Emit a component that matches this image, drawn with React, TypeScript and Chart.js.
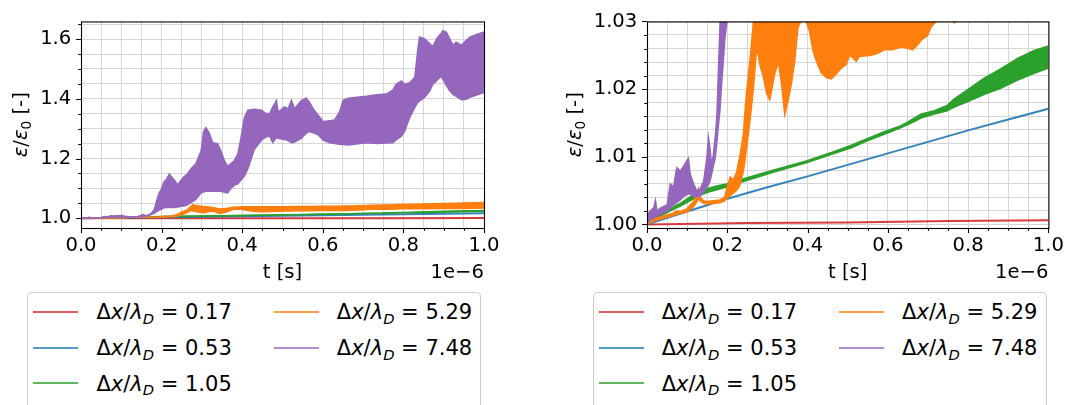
import React, { useEffect, useRef } from 'react';
import { Chart, registerables } from 'chart.js';

Chart.register(...registerables);

const FONT = "'DejaVu Sans', sans-serif";
const FS = 19.6;
const LEG_FS = 21;
const TEXT = '#000000';
const GRID = '#d6d6d6';

// ---------- tick labels ----------
const X_MAJOR = [0.0, 0.2, 0.4, 0.6, 0.8, 1.0];
const X_OFFSET_LABEL = '1e\u22126';
const X_TITLE = 't [s]';
const Y_MAJOR_LEFT = [1.0, 1.2, 1.4, 1.6];
const Y_MAJOR_RIGHT = [1.0, 1.01, 1.02, 1.03];

// ---------- legend ----------
const LEGEND_VALUES = ['0.17', '0.53', '1.05', '5.29', '7.48'];
const SERIES_COLORS = ['#d62728', '#1f77b4', '#2ca02c', '#ff7f0e', '#9467bd'];
const SERIES_RGB = ['214,39,40', '31,119,180', '44,160,44', '255,127,14', '148,103,189'];

// ---------- series (t in units of 1e-6 s, energy ratio) ----------
const RED_T = [0, 0.25, 0.5, 0.75, 1.0];
const RED_V = [1.0, 1.0002, 1.0003, 1.0005, 1.0006];

const BLUE_T = [0, 0.1, 0.2, 0.3, 0.4, 0.5, 0.6, 0.7, 0.8, 0.9, 1.0];
const BLUE_V = [1.0, 1.0019, 1.0038, 1.0055, 1.0071, 1.0088, 1.0105, 1.0122, 1.0139, 1.0155, 1.0171];

const GREEN_T = [0, 0.03, 0.058, 0.083, 0.108, 0.132, 0.149, 0.174, 0.198, 0.232,
  0.314, 0.397, 0.467, 0.509, 0.55, 0.591, 0.633, 0.666, 0.682, 0.716,
  0.748, 0.764, 0.798, 0.839, 0.881, 0.922, 0.963, 1.0];
const GREEN_LO = [1.0, 1.0011, 1.002, 1.0027, 1.0035, 1.0043, 1.0047, 1.0051, 1.0055, 1.0062,
  1.0077, 1.0091, 1.0105, 1.0113, 1.0124, 1.0133, 1.0143, 1.0152, 1.0157, 1.0163,
  1.0168, 1.0173, 1.0181, 1.0192, 1.0201, 1.0213, 1.0223, 1.0231];
const GREEN_HI = [1.0, 1.0014, 1.0024, 1.0031, 1.0041, 1.005, 1.0053, 1.0057, 1.006, 1.0066,
  1.008, 1.0094, 1.0108, 1.0117, 1.0127, 1.0137, 1.0146, 1.0157, 1.0163, 1.0168,
  1.0176, 1.0185, 1.0199, 1.0216, 1.023, 1.0245, 1.0257, 1.0264];

const ORANGE_T = [0, 0.017, 0.033, 0.05, 0.066, 0.074, 0.083, 0.091, 0.099, 0.108,
  0.116, 0.124, 0.128, 0.132, 0.141, 0.149, 0.165, 0.182, 0.194, 0.198,
  0.207, 0.215, 0.223, 0.231, 0.24, 0.244, 0.248, 0.256, 0.265, 0.273,
  0.277, 0.281, 0.29, 0.298, 0.306, 0.318, 0.327, 0.335, 0.343, 0.352,
  0.36, 0.368, 0.376, 0.39, 0.405, 0.414, 0.422, 0.434, 0.447, 0.459,
  0.471, 0.484, 0.496, 0.505, 0.513, 0.521, 0.529, 0.558, 0.575, 0.591,
  0.612, 0.633, 0.653, 0.661, 0.674, 0.686, 0.699, 0.707, 0.72, 0.75,
  0.766, 0.79, 0.85, 0.9, 0.95, 1.0];
const ORANGE_LO = [1.0, 1.0005, 1.0008, 1.0011, 1.0013, 1.0015, 1.0016, 1.0017, 1.0018, 1.0022,
  1.0026, 1.0033, 1.0038, 1.0035, 1.0031, 1.003, 1.0031, 1.0032, 1.0035, 1.0038,
  1.0042, 1.0046, 1.005, 1.0057, 1.0078, 1.0093, 1.0112, 1.015, 1.02, 1.026,
  1.025, 1.0236, 1.0217, 1.0193, 1.0184, 1.0222, 1.024, 1.0208, 1.0162, 1.0184,
  1.0208, 1.0241, 1.029, 1.031, 1.0285, 1.0255, 1.0241, 1.0224, 1.0217, 1.0215,
  1.0222, 1.0231, 1.0236, 1.025, 1.0246, 1.0241, 1.0248, 1.025, 1.0253, 1.0258,
  1.0258, 1.0262, 1.026, 1.0258, 1.0265, 1.0274, 1.0279, 1.0291, 1.03, 1.031,
  1.0298, 1.0315, 1.032, 1.0325, 1.033, 1.034];
const ORANGE_HI = [1.0, 1.0008, 1.0011, 1.0014, 1.0017, 1.002, 1.0019, 1.0021, 1.0023, 1.0029,
  1.0034, 1.0044, 1.0053, 1.0041, 1.0035, 1.0034, 1.0035, 1.0036, 1.0041, 1.0052,
  1.007, 1.0066, 1.0077, 1.01, 1.0134, 1.0167, 1.0196, 1.024, 1.03, 1.04,
  1.046, 1.044, 1.042, 1.0405, 1.0395, 1.038, 1.036, 1.034, 1.031, 1.032,
  1.033, 1.035, 1.037, 1.038, 1.039, 1.039, 1.0388, 1.0385, 1.0385, 1.0385,
  1.0385, 1.0385, 1.039, 1.039, 1.0392, 1.0393, 1.0395, 1.0398, 1.04, 1.0402,
  1.0405, 1.0407, 1.041, 1.0412, 1.0415, 1.042, 1.0425, 1.043, 1.0435, 1.0445,
  1.045, 1.0465, 1.048, 1.0495, 1.051, 1.053];

const PURPLE_T = [0, 0.004, 0.008, 0.017, 0.021, 0.025, 0.033, 0.05, 0.058, 0.066,
  0.074, 0.083, 0.091, 0.103, 0.108, 0.116, 0.124, 0.132, 0.141, 0.149,
  0.153, 0.157, 0.161, 0.165, 0.17, 0.174, 0.178, 0.182, 0.186, 0.19,
  0.194, 0.199, 0.207, 0.211, 0.219, 0.232, 0.24, 0.248, 0.256, 0.265,
  0.273, 0.285, 0.298, 0.304, 0.31, 0.318, 0.327, 0.339, 0.347, 0.356,
  0.364, 0.372, 0.38, 0.389, 0.397, 0.405, 0.414, 0.43, 0.448, 0.459,
  0.468, 0.476, 0.485, 0.489, 0.505, 0.514, 0.522, 0.53, 0.547, 0.559,
  0.567, 0.576, 0.588, 0.601, 0.617, 0.629, 0.642, 0.65, 0.663, 0.708,
  0.733, 0.758, 0.774, 0.782, 0.795, 0.803, 0.815, 0.828, 0.836, 0.84,
  0.853, 0.865, 0.873, 0.882, 0.894, 0.898, 0.907, 0.915, 0.923, 0.931,
  0.944, 0.956, 0.965, 0.98, 1.0];
const PURPLE_LO = [1.0, 1.0005, 1.0006, 1.001, 1.0011, 1.0012, 1.0015, 1.002, 1.0024, 1.0029,
  1.0032, 1.0036, 1.0041, 1.0045, 1.0045, 1.0041, 1.0041, 1.0042, 1.0048, 1.0055,
  1.0058, 1.0064, 1.0074, 1.0085, 1.0098, 1.012, 1.0146, 1.017, 1.0208, 1.024,
  1.0274, 1.03, 1.036, 1.036, 1.036, 1.036, 1.038, 1.04, 1.041, 1.046,
  1.052, 1.063, 1.085, 1.088, 1.09, 1.09, 1.09, 1.09, 1.09, 1.087,
  1.085, 1.1, 1.11, 1.115, 1.128, 1.14, 1.165, 1.23, 1.262, 1.272,
  1.275, 1.253, 1.27, 1.268, 1.264, 1.26, 1.253, 1.255, 1.268, 1.285,
  1.29, 1.286, 1.28, 1.262, 1.253, 1.25, 1.248, 1.247, 1.245, 1.253,
  1.25, 1.252, 1.253, 1.262, 1.275, 1.291, 1.335, 1.37, 1.389, 1.392,
  1.405, 1.425, 1.449, 1.46, 1.476, 1.465, 1.443, 1.427, 1.415, 1.408,
  1.397, 1.398, 1.405, 1.412, 1.421];
const PURPLE_HI = [1.0, 1.0017, 1.002, 1.0025, 1.0036, 1.002, 1.0024, 1.0029, 1.006, 1.0055,
  1.0084, 1.0079, 1.0086, 1.0098, 1.0074, 1.006, 1.005, 1.0052, 1.0064, 1.0098,
  1.0129, 1.0112, 1.0088, 1.0102, 1.013, 1.016, 1.0231, 1.0298, 1.05, 1.07,
  1.085, 1.096, 1.125, 1.128, 1.148, 1.128, 1.112, 1.128, 1.14, 1.15,
  1.166, 1.183, 1.226, 1.291, 1.304, 1.286, 1.253, 1.25, 1.226, 1.193,
  1.174, 1.183, 1.193, 1.215, 1.27, 1.335, 1.362, 1.365, 1.362, 1.351,
  1.351, 1.373, 1.395, 1.356, 1.373, 1.367, 1.395, 1.367, 1.395, 1.402,
  1.389, 1.367, 1.346, 1.324, 1.327, 1.329, 1.357, 1.395, 1.402, 1.409,
  1.414, 1.416, 1.43, 1.449, 1.46, 1.449, 1.454, 1.471, 1.568, 1.607,
  1.601, 1.585, 1.574, 1.601, 1.62, 1.628, 1.623, 1.601, 1.579, 1.59,
  1.579, 1.596, 1.607, 1.615, 1.624];

// ---------- helpers ----------
const pts = (t: number[], v: number[]) => t.map((x, i) => ({ x, y: v[i] }));

function subTicks(majors: number[], ndiv: number, min: number, max: number): number[] {
  const step = (majors[1] - majors[0]) / ndiv;
  const base = majors[0];
  const kmin = Math.ceil((min - base) / step - 1e-9);
  const kmax = Math.floor((max - base) / step + 1e-9);
  const out: number[] = [];
  for (let k = kmin; k <= kmax; k++) out.push(Math.round((base + k * step) * 1e9) / 1e9);
  return out;
}
const isMajor = (v: number, majors: number[]) => majors.some((m) => Math.abs(m - v) < 1e-7);

function band(t: number[], lo: number[], hi: number[], idx: number) {
  const c = SERIES_COLORS[idx];
  return [
    { data: pts(t, hi), borderColor: c, backgroundColor: c, borderWidth: 1.4, pointRadius: 0, fill: '+1', tension: 0, clip: 0 },
    { data: pts(t, lo), borderColor: c, backgroundColor: c, borderWidth: 1.4, pointRadius: 0, fill: false, tension: 0, clip: 0 },
  ];
}
function thin(t: number[], v: number[], idx: number) {
  return { data: pts(t, v), borderColor: `rgba(${SERIES_RGB[idx]},0.9)`, borderWidth: 2, pointRadius: 0, fill: false, tension: 0, clip: 0 };
}

type PanelCfg = {
  left: number; width: number; height: number;
  chartLeft: number; chartRight: number; chartTop: number; chartBottom: number;
  yMin: number; yMax: number; yMajor: number[]; yNdiv: number; yDec: number; yLabelX: number;
};

function drawYLabel(ctx: CanvasRenderingContext2D, cx: number, cy: number) {
  const parts = [
    { t: '\u03b5', f: `italic ${FS}px ${FONT}`, dy: 0 },
    { t: '/', f: `${FS}px ${FONT}`, dy: 0 },
    { t: '\u03b5', f: `italic ${FS}px ${FONT}`, dy: 0 },
    { t: '0', f: `${FS * 0.7}px ${FONT}`, dy: FS * 0.2 },
    { t: ' [-]', f: `${FS}px ${FONT}`, dy: 0 },
  ];
  ctx.save();
  ctx.translate(cx, cy);
  ctx.rotate(-Math.PI / 2);
  let w = 0;
  for (const p of parts) { ctx.font = p.f; w += ctx.measureText(p.t).width; }
  let x = -w / 2;
  const base = FS * 0.34;
  ctx.textAlign = 'left';
  ctx.textBaseline = 'alphabetic';
  ctx.fillStyle = TEXT;
  for (const p of parts) {
    ctx.font = p.f;
    ctx.fillText(p.t, x, base + p.dy);
    x += ctx.measureText(p.t).width;
  }
  ctx.restore();
}

function Panel({ cfg }: { cfg: PanelCfg }) {
  const ref = useRef<HTMLCanvasElement>(null);
  useEffect(() => {
    const xTicks = subTicks(X_MAJOR, 4, 0, 1);
    const yTicks = subTicks(cfg.yMajor, cfg.yNdiv, cfg.yMin, cfg.yMax);
    const decor = {
      id: 'decor',
      afterDraw(chart: any) {
        const { ctx, chartArea: a, scales } = chart;
        ctx.save();
        ctx.strokeStyle = '#000';
        ctx.lineWidth = 1.1;
        ctx.beginPath();
        for (const v of xTicks) {
          const px = Math.round(scales.x.getPixelForValue(v)) + 0.5;
          const len = isMajor(v, X_MAJOR) ? 4.9 : 2.8;
          ctx.moveTo(px, a.bottom);
          ctx.lineTo(px, a.bottom + len);
        }
        for (const v of yTicks) {
          const py = Math.round(scales.y.getPixelForValue(v)) + 0.5;
          const len = isMajor(v, cfg.yMajor) ? 4.9 : 2.8;
          ctx.moveTo(a.left, py);
          ctx.lineTo(a.left - len, py);
        }
        ctx.stroke();
        ctx.strokeRect(a.left + 0.5, a.top + 0.5, a.right - a.left, a.bottom - a.top);
        ctx.fillStyle = TEXT;
        ctx.font = `${FS}px ${FONT}`;
        ctx.textBaseline = 'alphabetic';
        ctx.textAlign = 'center';
        ctx.fillText(X_TITLE, (a.left + a.right) / 2, 278.3);
        ctx.textAlign = 'right';
        ctx.fillText(X_OFFSET_LABEL, a.right, 278.3);
        ctx.restore();
        drawYLabel(ctx, cfg.yLabelX, (a.top + a.bottom) / 2);
      },
    };
    const datasets: any[] = [
      ...band(PURPLE_T, PURPLE_LO, PURPLE_HI, 4),
      ...band(ORANGE_T, ORANGE_LO, ORANGE_HI, 3),
      ...band(GREEN_T, GREEN_LO, GREEN_HI, 2),
      thin(BLUE_T, BLUE_V, 1),
      thin(RED_T, RED_V, 0),
    ];
    const tickFont = { family: FONT, size: FS };
    const chart = new Chart(ref.current as HTMLCanvasElement, {
      type: 'line',
      data: { datasets },
      options: {
        animation: false,
        responsive: false,
        devicePixelRatio: 1,
        events: [],
        layout: { padding: { left: 0, top: cfg.chartTop, right: cfg.width - cfg.chartRight, bottom: 0 } },
        plugins: { legend: { display: false }, tooltip: { enabled: false }, title: { display: false } },
        scales: {
          x: {
            type: 'linear', min: 0, max: 1, bounds: 'data',
            afterBuildTicks: (s: any) => { s.ticks = xTicks.map((value) => ({ value })); },
            afterFit: (s: any) => { s.height = cfg.height - cfg.chartBottom; },
            ticks: {
              autoSkip: false, maxRotation: 0, minRotation: 0, padding: 6, color: TEXT, font: tickFont,
              callback: (v: any) => (isMajor(Number(v), X_MAJOR) ? Number(v).toFixed(1) : ''),
            },
            grid: { color: GRID, lineWidth: 1, drawTicks: false },
            border: { display: false },
          },
          y: {
            type: 'linear', min: cfg.yMin, max: cfg.yMax, bounds: 'data',
            afterBuildTicks: (s: any) => { s.ticks = yTicks.map((value) => ({ value })); },
            afterFit: (s: any) => { s.width = cfg.chartLeft; },
            ticks: {
              autoSkip: false, padding: 9.7, color: TEXT, font: tickFont,
              callback: (v: any) => (isMajor(Number(v), cfg.yMajor) ? Number(v).toFixed(cfg.yDec) : ''),
            },
            grid: { color: GRID, lineWidth: 1, drawTicks: false },
            border: { display: false },
          },
        },
      },
      plugins: [decor],
    } as any);
    return () => chart.destroy();
  }, []);
  return (
    <canvas
      ref={ref}
      width={cfg.width}
      height={cfg.height}
      style={{ position: 'absolute', left: cfg.left, top: 0, width: cfg.width, height: cfg.height, display: 'block' }}
    />
  );
}

function LegendLabel({ v }: { v: string }) {
  return (
    <span style={{ whiteSpace: 'nowrap' }}>
      {'\u0394'}<i>x</i>/<i>{'\u03bb'}</i>
      <span style={{ fontSize: '0.7em', fontStyle: 'italic', position: 'relative', top: '0.3em' }}>D</span>
      {' = '}{v}
    </span>
  );
}

function Legend({ boxLeft, handleLeft }: { boxLeft: number; handleLeft: number }) {
  const rows = [311.7, 347.7, 383.3];
  const items = LEGEND_VALUES.map((v, i) => {
    const col = i < 3 ? 0 : 1;
    const row = i < 3 ? i : i - 3;
    const hx = handleLeft + col * 240.4;
    const cy = rows[row];
    return (
      <React.Fragment key={v}>
        <div style={{ position: 'absolute', left: hx, top: cy - 1, width: 45, height: 2, background: `rgba(${SERIES_RGB[i]},0.75)` }} />
        <div style={{ position: 'absolute', left: hx + 63.2, top: cy + 0.8 - LEG_FS * 0.48, fontSize: LEG_FS, lineHeight: 1, fontFamily: FONT, color: TEXT }}>
          <LegendLabel v={v} />
        </div>
      </React.Fragment>
    );
  });
  return (
    <>
      <div style={{ position: 'absolute', left: boxLeft, top: 292, width: 454, height: 150, border: '1px solid #cccccc', borderRadius: 4, background: 'rgba(255,255,255,0.8)', boxSizing: 'border-box' }} />
      {items}
    </>
  );
}

const LEFT_PANEL: PanelCfg = {
  left: 0, width: 535, height: 290, chartLeft: 81, chartRight: 484, chartTop: 15, chartBottom: 228,
  yMin: 0.9675, yMax: 1.659, yMajor: Y_MAJOR_LEFT, yNdiv: 4, yDec: 1, yLabelX: 20,
};
const RIGHT_PANEL: PanelCfg = {
  left: 535, width: 535, height: 290, chartLeft: 112, chartRight: 515, chartTop: 15, chartBottom: 228,
  yMin: 0.99947, yMax: 1.03, yMajor: Y_MAJOR_RIGHT, yNdiv: 5, yDec: 2, yLabelX: 39,
};

export default function App() {
  return (
    <div style={{ position: 'absolute', left: 0, top: 0, width: 1070, height: 405, overflow: 'hidden', background: '#ffffff', fontFamily: FONT }}>
      <Panel cfg={LEFT_PANEL} />
      <Panel cfg={RIGHT_PANEL} />
      <Legend boxLeft={27} handleLeft={33.2} />
      <Legend boxLeft={593} handleLeft={598.5} />
    </div>
  );
}
